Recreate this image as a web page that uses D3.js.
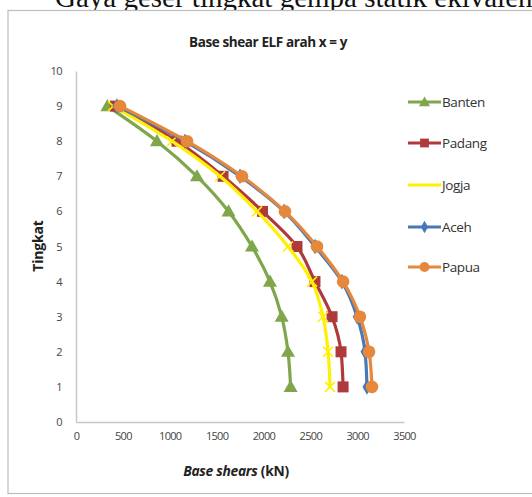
<!DOCTYPE html>
<html><head><meta charset="utf-8">
<script src="https://cdn.jsdelivr.net/npm/d3@7"></script>
<style>body{margin:0;background:#fff;} svg{display:block;}</style>
</head><body>
<svg id="c" width="532" height="497"></svg>
<script>
const levels = [1,2,3,4,5,6,7,8,9];
const banten = [2290,2262,2195,2070,1878,1628,1291,864,335];
const padang = [2850,2828,2732,2550,2358,1990,1569,1078,420];
const jogja  = [2711,2690,2636,2518,2262,1932,1537,1025,395];
const aceh   = [3105,3084,3000,2838,2550,2220,1750,1163,437];
const papua  = [3158,3127,3030,2850,2572,2230,1771,1185,470];
const seriesNames = ["Banten","Padang","Jogja","Aceh","Papua"];
const xTicks = [0,500,1000,1500,2000,2500,3000,3500];
const yTicks = [0,1,2,3,4,5,6,7,8,9,10];

const colors = {Banten:"#7fa64a",Padang:"#b0393c",Jogja:"#ffef00",Aceh:"#4878b8",Papua:"#e5883c"};
const shapes = {Banten:"triangle",Padang:"square",Jogja:"x",Aceh:"diamond",Papua:"circle"};
const dataMap = {Banten:banten,Padang:padang,Jogja:jogja,Aceh:aceh,Papua:papua};

const svg = d3.select("#c");
// header text (cut off at top, as in the reference)
svg.append("text").attr("x",55).attr("y",7).attr("font-family","Liberation Serif, serif")
  .attr("font-size",29).attr("fill","#111").text("Gaya geser tingkat gempa statik ekivalen");
// frame
svg.append("rect").attr("x",8).attr("y",10.5).attr("width",540).attr("height",483)
  .attr("fill","#fff").attr("stroke","#bdbdbd").attr("stroke-width",1.2);

const x = d3.scaleLinear().domain([0,3500]).range([76,404]);
const y = d3.scaleLinear().domain([0,10]).range([422,71]);

// axes
const xAxis = d3.axisBottom(x).tickValues(xTicks).tickFormat(d3.format("d")).tickSize(0).tickPadding(10);
const gx = svg.append("g").attr("transform","translate(0,422)").call(xAxis);
gx.select(".domain").attr("stroke","#c8c8c8").attr("stroke-width",1.5);
gx.selectAll("text").attr("font-family","Open Sans, sans-serif").attr("font-size",11)
  .attr("fill","#444").attr("letter-spacing","-0.7");

const yAxis = d3.axisLeft(y).tickValues(yTicks).tickFormat(d3.format("d")).tickSize(0).tickPadding(14);
const gy = svg.append("g").attr("transform","translate(76,0)").call(yAxis);
gy.select(".domain").attr("stroke","#c8c8c8").attr("stroke-width",1.5);
gy.selectAll("text").attr("font-family","Open Sans, sans-serif").attr("font-size",11)
  .attr("fill","#444").attr("letter-spacing","-0.6");

// title
svg.append("text").attr("x",268).attr("y",47).attr("text-anchor","middle")
  .attr("font-family","Open Sans, sans-serif").attr("font-weight","bold").attr("font-size",13.5)
  .attr("letter-spacing","-0.4").attr("fill","#222").text("Base shear ELF arah x = y");

// axis titles
svg.append("text").attr("transform","translate(43,246) rotate(-90)").attr("text-anchor","middle")
  .attr("font-family","Open Sans, sans-serif").attr("font-weight","bold").attr("font-size",14)
  .attr("fill","#222").attr("letter-spacing","-0.2").text("Tingkat");
const xt = svg.append("text").attr("x",236).attr("y",476).attr("text-anchor","middle")
  .attr("font-family","Open Sans, sans-serif").attr("font-weight","bold").attr("font-size",13.8)
  .attr("fill","#222").attr("letter-spacing","-0.3");
xt.append("tspan").attr("font-style","italic").text("Base shears");
xt.append("tspan").text(" (kN)");

function marker(g, shape, color, cx, cy, s) {
  s = s || 1;
  if (shape === "triangle") {
    g.append("path").attr("d", d3.symbol(d3.symbolTriangle, 85*s*s)()).attr("transform",`translate(${cx},${cy+1})`).attr("fill",color);
  } else if (shape === "square") {
    g.append("rect").attr("x",cx-5.5*s).attr("y",cy-5.5*s).attr("width",11*s).attr("height",11*s).attr("fill",color);
  } else if (shape === "diamond") {
    g.append("path").attr("d", d3.symbol(d3.symbolDiamond, 70*s*s)()).attr("transform",`translate(${cx},${cy})`).attr("fill",color);
  } else if (shape === "circle") {
    g.append("circle").attr("cx",cx).attr("cy",cy).attr("r",6.3*s).attr("fill",color);
  } else if (shape === "x") {
    const r = 5*s;
    g.append("path").attr("d",`M${cx-r},${cy-r}L${cx+r},${cy+r}M${cx-r},${cy+r}L${cx+r},${cy-r}`)
      .attr("stroke",color).attr("stroke-width",1.6);
  }
}

const line = d3.line().x(d=>x(d[0])).y(d=>y(d[1])).curve(d3.curveMonotoneY);
seriesNames.forEach(name => {
  const pts = dataMap[name].map((v,i)=>[v,levels[i]]);
  const g = svg.append("g");
  g.append("path").datum(pts).attr("d",line).attr("fill","none")
    .attr("stroke",colors[name]).attr("stroke-width",3.2).attr("stroke-linejoin","round");
  pts.forEach(p => marker(g, shapes[name], colors[name], x(p[0]), y(p[1])));
});

// legend
const legY = [102,143,185,227,267];
seriesNames.forEach((name,i) => {
  const g = svg.append("g");
  g.append("line").attr("x1",408).attr("x2",441).attr("y1",legY[i]).attr("y2",legY[i])
    .attr("stroke",colors[name]).attr("stroke-width",3);
  if (name !== "Jogja") marker(g, shapes[name], colors[name], 424.5, legY[i], 0.8);
  g.append("text").attr("x",442).attr("y",legY[i]+5).attr("font-family","Open Sans, sans-serif")
    .attr("font-size",13.5).attr("fill","#333").attr("letter-spacing","-0.4").text(name);
});
</script>
</body></html>
